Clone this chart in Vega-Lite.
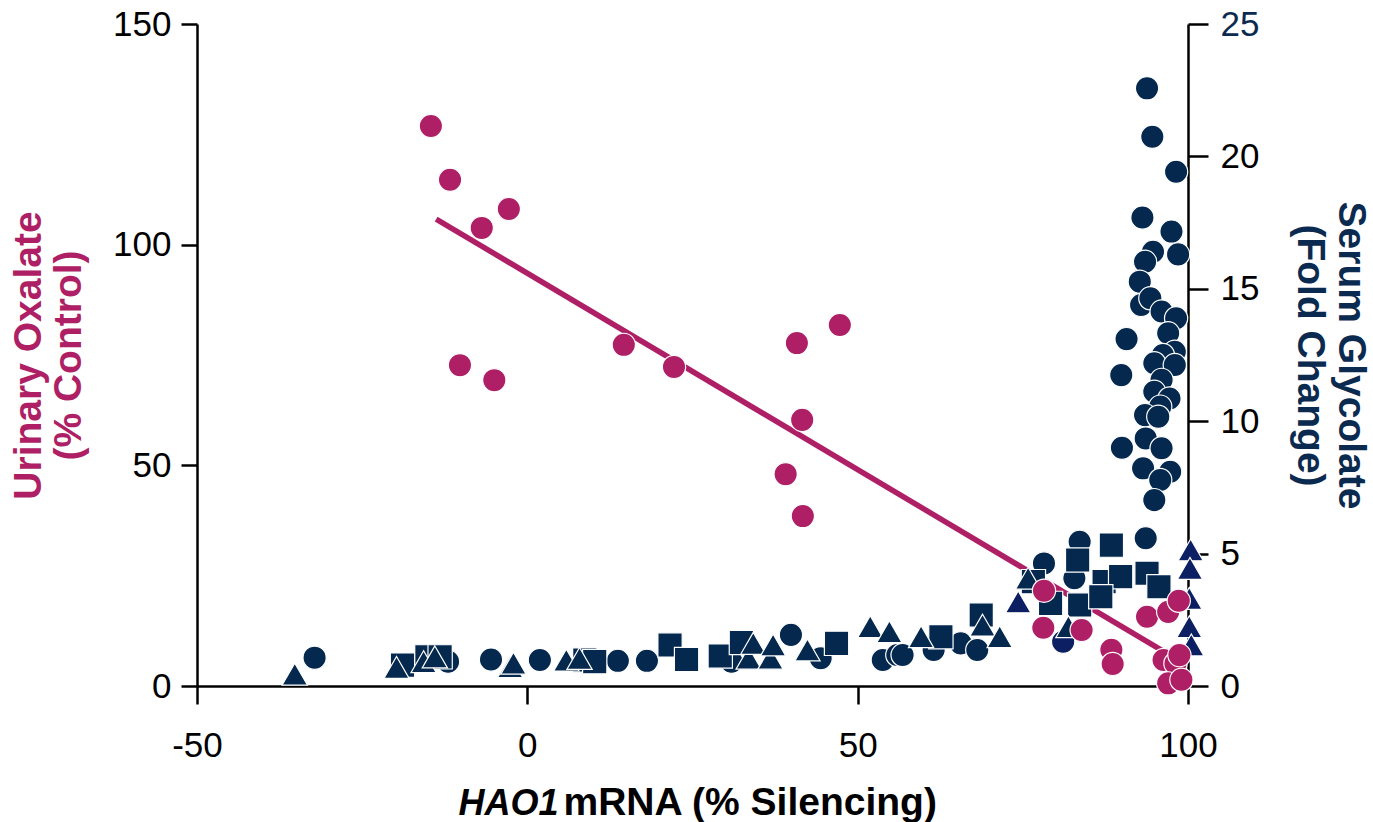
{
  "$schema": "https://vega.github.io/schema/vega-lite/v6.json",
  "autosize": "none",
  "width": 991,
  "height": 662,
  "padding": {"left": 197, "top": 24, "right": 185, "bottom": 136},
  "background": "white",
  "config": {
    "view": {"stroke": null},
    "font": "Liberation Sans",
    "axis": {
      "grid": false,
      "domainColor": "black",
      "domainWidth": 2.5,
      "tickColor": "black",
      "tickWidth": 2.5,
      "tickSize": 18,
      "labelFont": "Liberation Sans",
      "labelFontSize": 35,
      "labelColor": "black",
      "labelPadding": 8,
      "titleFont": "Liberation Sans",
      "titleFontSize": 39,
      "titleFontWeight": "bold",
      "labelFlush": false,
      "labelOverlap": false
    }
  },
  "datasets": {
    "oxalate": [
      {"silencing": -14.6, "oxalate": 126.9},
      {"silencing": -11.7, "oxalate": 114.7},
      {"silencing": -6.9, "oxalate": 103.8},
      {"silencing": -2.8, "oxalate": 108.1},
      {"silencing": -10.2, "oxalate": 72.7},
      {"silencing": -5.0, "oxalate": 69.3},
      {"silencing": 14.6, "oxalate": 77.3},
      {"silencing": 22.2, "oxalate": 72.3},
      {"silencing": 40.8, "oxalate": 77.7},
      {"silencing": 47.3, "oxalate": 81.8},
      {"silencing": 41.6, "oxalate": 60.3},
      {"silencing": 39.1, "oxalate": 48.0},
      {"silencing": 41.7, "oxalate": 38.5},
      {"silencing": 78.2, "oxalate": 21.6},
      {"silencing": 78.1, "oxalate": 13.2},
      {"silencing": 83.9, "oxalate": 12.7},
      {"silencing": 93.8, "oxalate": 15.7},
      {"silencing": 97.0, "oxalate": 16.8},
      {"silencing": 98.6, "oxalate": 19.3},
      {"silencing": 88.4, "oxalate": 8.2},
      {"silencing": 88.6, "oxalate": 5.0},
      {"silencing": 96.3, "oxalate": 5.9},
      {"silencing": 98.1, "oxalate": 5.1},
      {"silencing": 98.7, "oxalate": 7.0},
      {"silencing": 97.0, "oxalate": 0.6},
      {"silencing": 99.0, "oxalate": 1.4}
    ],
    "fit": [
      {"silencing": -13.8, "oxalate": 105.8},
      {"silencing": 97.0, "oxalate": 7.2}
    ],
    "glycolate": [
      {"silencing": 93.8, "glycolate": 22.57, "shape": "circle", "tone": "a"},
      {"silencing": 94.6, "glycolate": 20.74, "shape": "circle", "tone": "a"},
      {"silencing": 98.2, "glycolate": 19.42, "shape": "circle", "tone": "a"},
      {"silencing": 93.1, "glycolate": 17.69, "shape": "circle", "tone": "a"},
      {"silencing": 97.5, "glycolate": 17.16, "shape": "circle", "tone": "a"},
      {"silencing": 94.7, "glycolate": 16.4, "shape": "circle", "tone": "a"},
      {"silencing": 98.5, "glycolate": 16.3, "shape": "circle", "tone": "a"},
      {"silencing": 93.5, "glycolate": 16.02, "shape": "circle", "tone": "a"},
      {"silencing": 92.7, "glycolate": 15.27, "shape": "circle", "tone": "a"},
      {"silencing": 92.9, "glycolate": 14.39, "shape": "circle", "tone": "a"},
      {"silencing": 94.3, "glycolate": 14.64, "shape": "circle", "tone": "a"},
      {"silencing": 96.0, "glycolate": 14.14, "shape": "circle", "tone": "a"},
      {"silencing": 98.2, "glycolate": 13.89, "shape": "circle", "tone": "a"},
      {"silencing": 90.7, "glycolate": 13.1, "shape": "circle", "tone": "a"},
      {"silencing": 97.0, "glycolate": 13.32, "shape": "circle", "tone": "a"},
      {"silencing": 98.0, "glycolate": 12.62, "shape": "circle", "tone": "a"},
      {"silencing": 96.2, "glycolate": 12.5, "shape": "circle", "tone": "a"},
      {"silencing": 94.9, "glycolate": 12.19, "shape": "circle", "tone": "a"},
      {"silencing": 98.0, "glycolate": 12.12, "shape": "circle", "tone": "a"},
      {"silencing": 89.9, "glycolate": 11.74, "shape": "circle", "tone": "a"},
      {"silencing": 96.0, "glycolate": 11.56, "shape": "circle", "tone": "a"},
      {"silencing": 94.9, "glycolate": 11.11, "shape": "circle", "tone": "a"},
      {"silencing": 97.2, "glycolate": 10.86, "shape": "circle", "tone": "a"},
      {"silencing": 95.8, "glycolate": 10.55, "shape": "circle", "tone": "a"},
      {"silencing": 93.5, "glycolate": 10.23, "shape": "circle", "tone": "a"},
      {"silencing": 95.5, "glycolate": 10.17, "shape": "circle", "tone": "a"},
      {"silencing": 93.6, "glycolate": 9.35, "shape": "circle", "tone": "a"},
      {"silencing": 96.0, "glycolate": 8.98, "shape": "circle", "tone": "a"},
      {"silencing": 90.0, "glycolate": 9.0, "shape": "circle", "tone": "a"},
      {"silencing": 93.2, "glycolate": 8.22, "shape": "circle", "tone": "a"},
      {"silencing": 97.3, "glycolate": 8.09, "shape": "circle", "tone": "a"},
      {"silencing": 95.8, "glycolate": 7.78, "shape": "circle", "tone": "a"},
      {"silencing": 94.9, "glycolate": 7.02, "shape": "circle", "tone": "a"},
      {"silencing": 93.6, "glycolate": 5.58, "shape": "circle", "tone": "a"},
      {"silencing": -32.2, "glycolate": 1.07, "shape": "circle", "tone": "a"},
      {"silencing": -12.0, "glycolate": 0.92, "shape": "circle", "tone": "a"},
      {"silencing": -5.5, "glycolate": 1.0, "shape": "circle", "tone": "a"},
      {"silencing": 1.9, "glycolate": 0.98, "shape": "circle", "tone": "a"},
      {"silencing": 13.7, "glycolate": 0.95, "shape": "circle", "tone": "a"},
      {"silencing": 18.1, "glycolate": 0.95, "shape": "circle", "tone": "a"},
      {"silencing": 30.9, "glycolate": 0.92, "shape": "circle", "tone": "a"},
      {"silencing": 39.9, "glycolate": 1.93, "shape": "circle", "tone": "a"},
      {"silencing": 44.4, "glycolate": 1.05, "shape": "circle", "tone": "a"},
      {"silencing": 53.8, "glycolate": 0.98, "shape": "circle", "tone": "a"},
      {"silencing": 56.0, "glycolate": 1.17, "shape": "circle", "tone": "a"},
      {"silencing": 56.8, "glycolate": 1.17, "shape": "circle", "tone": "a"},
      {"silencing": 61.5, "glycolate": 1.36, "shape": "circle", "tone": "a"},
      {"silencing": 65.6, "glycolate": 1.61, "shape": "circle", "tone": "a"},
      {"silencing": 68.1, "glycolate": 1.36, "shape": "circle", "tone": "a"},
      {"silencing": 83.6, "glycolate": 5.45, "shape": "circle", "tone": "a"},
      {"silencing": 78.2, "glycolate": 4.63, "shape": "circle", "tone": "a"},
      {"silencing": 82.8, "glycolate": 4.07, "shape": "circle", "tone": "a"},
      {"silencing": 81.1, "glycolate": 1.67, "shape": "circle", "tone": "b"},
      {"silencing": -18.9, "glycolate": 0.79, "shape": "square", "tone": "a"},
      {"silencing": -15.2, "glycolate": 1.1, "shape": "square", "tone": "a"},
      {"silencing": -13.2, "glycolate": 1.1, "shape": "square", "tone": "a"},
      {"silencing": 8.7, "glycolate": 0.98, "shape": "square", "tone": "a"},
      {"silencing": 10.2, "glycolate": 0.92, "shape": "square", "tone": "a"},
      {"silencing": 21.6, "glycolate": 1.55, "shape": "square", "tone": "a"},
      {"silencing": 24.1, "glycolate": 1.0, "shape": "square", "tone": "a"},
      {"silencing": 29.2, "glycolate": 1.13, "shape": "square", "tone": "a"},
      {"silencing": 32.4, "glycolate": 1.64, "shape": "square", "tone": "a"},
      {"silencing": 46.8, "glycolate": 1.61, "shape": "square", "tone": "a"},
      {"silencing": 62.6, "glycolate": 1.86, "shape": "square", "tone": "a"},
      {"silencing": 68.7, "glycolate": 2.68, "shape": "square", "tone": "a"},
      {"silencing": 88.4, "glycolate": 5.32, "shape": "square", "tone": "a"},
      {"silencing": 83.3, "glycolate": 4.76, "shape": "square", "tone": "a"},
      {"silencing": 87.3, "glycolate": 3.94, "shape": "square", "tone": "a"},
      {"silencing": 89.8, "glycolate": 4.13, "shape": "square", "tone": "a"},
      {"silencing": 93.8, "glycolate": 4.26, "shape": "square", "tone": "a"},
      {"silencing": 95.6, "glycolate": 3.75, "shape": "square", "tone": "a"},
      {"silencing": 76.6, "glycolate": 3.94, "shape": "square", "tone": "a"},
      {"silencing": 79.2, "glycolate": 3.12, "shape": "square", "tone": "a"},
      {"silencing": 83.6, "glycolate": 3.06, "shape": "square", "tone": "a"},
      {"silencing": 86.8, "glycolate": 3.37, "shape": "square", "tone": "a"},
      {"silencing": -35.2, "glycolate": 0.45, "shape": "triangle-up", "tone": "a"},
      {"silencing": -19.8, "glycolate": 0.7, "shape": "triangle-up", "tone": "a"},
      {"silencing": -15.7, "glycolate": 0.92, "shape": "triangle-up", "tone": "a"},
      {"silencing": -14.0, "glycolate": 1.1, "shape": "triangle-up", "tone": "a"},
      {"silencing": -2.6, "glycolate": 0.73, "shape": "triangle-up", "tone": "a"},
      {"silencing": -2.1, "glycolate": 0.86, "shape": "triangle-up", "tone": "a"},
      {"silencing": 5.9, "glycolate": 0.98, "shape": "triangle-up", "tone": "a"},
      {"silencing": 7.9, "glycolate": 1.04, "shape": "triangle-up", "tone": "a"},
      {"silencing": 33.5, "glycolate": 1.05, "shape": "triangle-up", "tone": "a"},
      {"silencing": 34.2, "glycolate": 1.61, "shape": "triangle-up", "tone": "a"},
      {"silencing": 36.8, "glycolate": 1.05, "shape": "triangle-up", "tone": "a"},
      {"silencing": 37.2, "glycolate": 1.55, "shape": "triangle-up", "tone": "a"},
      {"silencing": 42.4, "glycolate": 1.36, "shape": "triangle-up", "tone": "a"},
      {"silencing": 51.9, "glycolate": 2.24, "shape": "triangle-up", "tone": "a"},
      {"silencing": 54.8, "glycolate": 2.05, "shape": "triangle-up", "tone": "a"},
      {"silencing": 59.6, "glycolate": 1.86, "shape": "triangle-up", "tone": "a"},
      {"silencing": 68.9, "glycolate": 2.3, "shape": "triangle-up", "tone": "a"},
      {"silencing": 71.5, "glycolate": 1.86, "shape": "triangle-up", "tone": "a"},
      {"silencing": 75.8, "glycolate": 4.07, "shape": "triangle-up", "tone": "a"},
      {"silencing": 81.9, "glycolate": 2.24, "shape": "triangle-up", "tone": "a"},
      {"silencing": 74.3, "glycolate": 3.18, "shape": "triangle-up", "tone": "b"},
      {"silencing": 100.4, "glycolate": 5.14, "shape": "triangle-up", "tone": "b"},
      {"silencing": 100.3, "glycolate": 4.44, "shape": "triangle-up", "tone": "b"},
      {"silencing": 100.2, "glycolate": 3.31, "shape": "triangle-up", "tone": "b"},
      {"silencing": 100.2, "glycolate": 2.24, "shape": "triangle-up", "tone": "b"},
      {"silencing": 100.5, "glycolate": 1.55, "shape": "triangle-up", "tone": "b"}
    ]
  },
  "layer": [
    {
      "data": {"name": "fit"},
      "mark": {"type": "line", "color": "#AE1F65", "strokeWidth": 5.5, "clip": false},
      "encoding": {
        "x": {
          "field": "silencing", "type": "quantitative",
          "scale": {"domain": [-50, 100], "nice": false, "zero": false},
          "axis": {
            "orient": "bottom",
            "values": [-50, 0, 50, 100],
            "labelExpr": "'' + datum.value",
            "labelPadding": 24,
            "title": "mRNA (% Silencing)",
            "titleAlign": "left",
            "titleAnchor": null,
            "titleX": 366,
            "titleY": 128,
            "titleBaseline": "alphabetic",
            "titleColor": "black"
          }
        },
        "y": {
          "field": "oxalate", "type": "quantitative",
          "scale": {"domain": [0, 150], "nice": false, "zero": true},
          "axis": {
            "orient": "left",
            "values": [0, 50, 100, 150],
            "tickSize": 16,
            "labelPadding": 10,
            "title": ["Urinary Oxalate", "(% Control)"],
            "titleColor": "#AE1F65",
            "titleLineHeight": 40,
            "titlePadding": 24
          }
        }
      }
    },
    {
      "data": {"name": "glycolate"},
      "mark": {"type": "point", "filled": true, "opacity": 1, "stroke": "white", "strokeWidth": 1.2, "clip": false},
      "encoding": {
        "x": {
          "field": "silencing", "type": "quantitative",
          "scale": {"domain": [-50, 100], "nice": false, "zero": false},
          "axis": {
            "orient": "top",
            "labels": false,
            "ticks": false,
            "domain": false,
            "title": "HAO1",
            "titleFontSize": 36,
            "titleFontStyle": "italic",
            "titleAlign": "left",
            "titleAnchor": null,
            "titleX": 261,
            "titleY": 790,
            "titleBaseline": "alphabetic",
            "titleColor": "black"
          }
        },
        "y": {
          "field": "glycolate", "type": "quantitative",
          "scale": {"domain": [0, 25], "nice": false, "zero": true},
          "axis": {
            "orient": "right",
            "values": [0, 5, 10, 15, 20, 25],
            "tickSize": 20,
            "labelPadding": 12,
            "labelColor": {"expr": "datum.value == 25 ? '#0B2A4F' : 'black'"},
            "title": ["Serum Glycolate", "(Fold Change)"],
            "titleColor": "#0B2A4F",
            "titleLineHeight": 41,
            "titlePadding": 31
          }
        },
        "shape": {
          "field": "shape", "type": "nominal",
          "scale": {"domain": ["circle", "square", "triangle-up"], "range": ["circle", "square", "triangle-up"]},
          "legend": null
        },
        "size": {
          "field": "shape", "type": "nominal",
          "scale": {"domain": ["circle", "square", "triangle-up"], "range": [540, 640, 680]},
          "legend": null
        },
        "color": {
          "field": "tone", "type": "nominal",
          "scale": {"domain": ["a", "b"], "range": ["#04284E", "#0C1F62"]},
          "legend": null
        }
      }
    },
    {
      "data": {"name": "oxalate"},
      "mark": {"type": "circle", "size": 540, "opacity": 1, "color": "#AE1F65", "stroke": "white", "strokeWidth": 1.2, "clip": false},
      "encoding": {
        "x": {"field": "silencing", "type": "quantitative", "scale": {"domain": [-50, 100], "nice": false, "zero": false}, "axis": null},
        "y": {"field": "oxalate", "type": "quantitative", "scale": {"domain": [0, 150], "nice": false, "zero": true}, "axis": null}
      }
    }
  ],
  "resolve": {"scale": {"y": "independent"}, "axis": {"x": "independent", "y": "independent"}}
}
